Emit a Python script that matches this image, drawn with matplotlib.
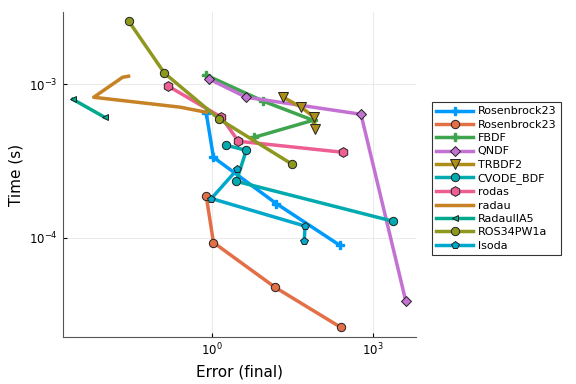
import matplotlib
matplotlib.use('Agg')
import matplotlib.pyplot as plt

# work-precision data: error (final) vs time (s)
names = ['Rosenbrock23', 'Rosenbrock23', 'FBDF', 'QNDF', 'TRBDF2', 'CVODE_BDF',
         'rodas', 'radau', 'RadauIIA5', 'ROS34PW1a', 'lsoda']

err_ros23a = [0.78, 1.06, 15.6, 241]
time_ros23a = [6.47e-4, 3.34e-4, 1.67e-4, 8.9e-5]

err_ros23b = [0.78, 1.06, 15.0, 251]
time_ros23b = [1.86e-4, 9.3e-5, 4.74e-5, 2.6e-5]

err_fbdf = [0.78, 8.96, 75.9, 6.10]
time_fbdf = [1.145e-3, 7.75e-4, 5.82e-4, 4.51e-4]

err_qndf = [0.891, 4.33, 591, 4045]
time_qndf = [1.078e-3, 8.22e-4, 6.37e-4, 3.84e-5]

err_trbdf2 = [21.1, 45.5, 79.3, 82.7]
time_trbdf2 = [8.22e-4, 7.08e-4, 6.09e-4, 5.09e-4]

err_cvode = [1.84, 4.33, 2.83, 2321]
time_cvode = [4.0e-4, 3.71e-4, 2.33e-4, 1.28e-4]

err_rodas = [0.154, 1.49, 3.08, 274]
time_rodas = [9.7e-4, 6.09e-4, 4.25e-4, 3.6e-4]

err_radau = [0.0279, 0.0216, 0.00626, 0.258, 0.78]
time_radau = [1.127e-3, 1.11e-3, 8.22e-4, 7.08e-4, 6.56e-4]

err_radau5 = [0.00255, 0.01]
time_radau5 = [7.98e-4, 6.09e-4]

err_ros34 = [0.0279, 0.130, 1.37, 30.9]
time_ros34 = [2.58e-3, 1.18e-3, 5.91e-4, 3.01e-4]

err_lsoda = [2.95, 0.97, 53.9, 51.7]
time_lsoda = [2.79e-4, 1.80e-4, 1.19e-4, 9.46e-5]

errs = [err_ros23a, err_ros23b, err_fbdf, err_qndf, err_trbdf2, err_cvode,
        err_rodas, err_radau, err_radau5, err_ros34, err_lsoda]
times = [time_ros23a, time_ros23b, time_fbdf, time_qndf, time_trbdf2, time_cvode,
         time_rodas, time_radau, time_radau5, time_ros34, time_lsoda]

colors = ['#009AFA', '#E36F47', '#3EA44E', '#C371D2', '#AC8E18', '#00AAAE',
          '#ED5E93', '#C68225', '#00A98D', '#8E971E', '#00A8CB']
markers = ['P', 'o', 'P', 'D', 'v', 'o', 'h', None, '<', 'o', 'p']
msizes = [6, 6, 6, 5, 7, 6, 7, 0, 5, 6, 6]

fig = plt.figure(figsize=(5.76, 3.84), dpi=100)
ax = fig.add_axes([0.109, 0.122, 0.613, 0.847])

for x, y, nm, c, m, ms in zip(errs, times, names, colors, markers, msizes):
    if m is None:
        ax.plot(x, y, color=c, lw=2.5, label=nm)
    elif m == 'P':
        ax.plot(x, y, color=c, lw=2.5, marker=m, ms=ms, mec=c, mfc=c, label=nm)
    else:
        ax.plot(x, y, color=c, lw=2.5, marker=m, ms=ms, mec='#222222',
                mew=0.7, mfc=c, label=nm)

ax.set_xscale('log')
ax.set_yscale('log')
ax.set_xlim(10**-2.779, 10**3.793)
ax.set_ylim(10**-4.648, 10**-2.529)
ax.set_xticks([1, 1000])
ax.set_yticks([1e-4, 1e-3])
ax.minorticks_off()
ax.grid(True, color='#e6e6e6', lw=0.6)
ax.tick_params(direction='in', length=3, labelsize=8.5, colors='black')
for s in ['top', 'right']:
    ax.spines[s].set_visible(False)
for s in ['left', 'bottom']:
    ax.spines[s].set_color('#555555')
ax.set_xlabel('Error (final)', fontsize=11)
ax.set_ylabel('Time (s)', fontsize=11)

leg = ax.legend(loc='upper left', bbox_to_anchor=(1.03, 0.74), fontsize=8,
                frameon=True, fancybox=False, edgecolor='black',
                handlelength=3.3, labelspacing=0.3, borderpad=0.4,
                handletextpad=0.4)
leg.get_frame().set_linewidth(0.8)

plt.savefig('out.png', dpi=100)
